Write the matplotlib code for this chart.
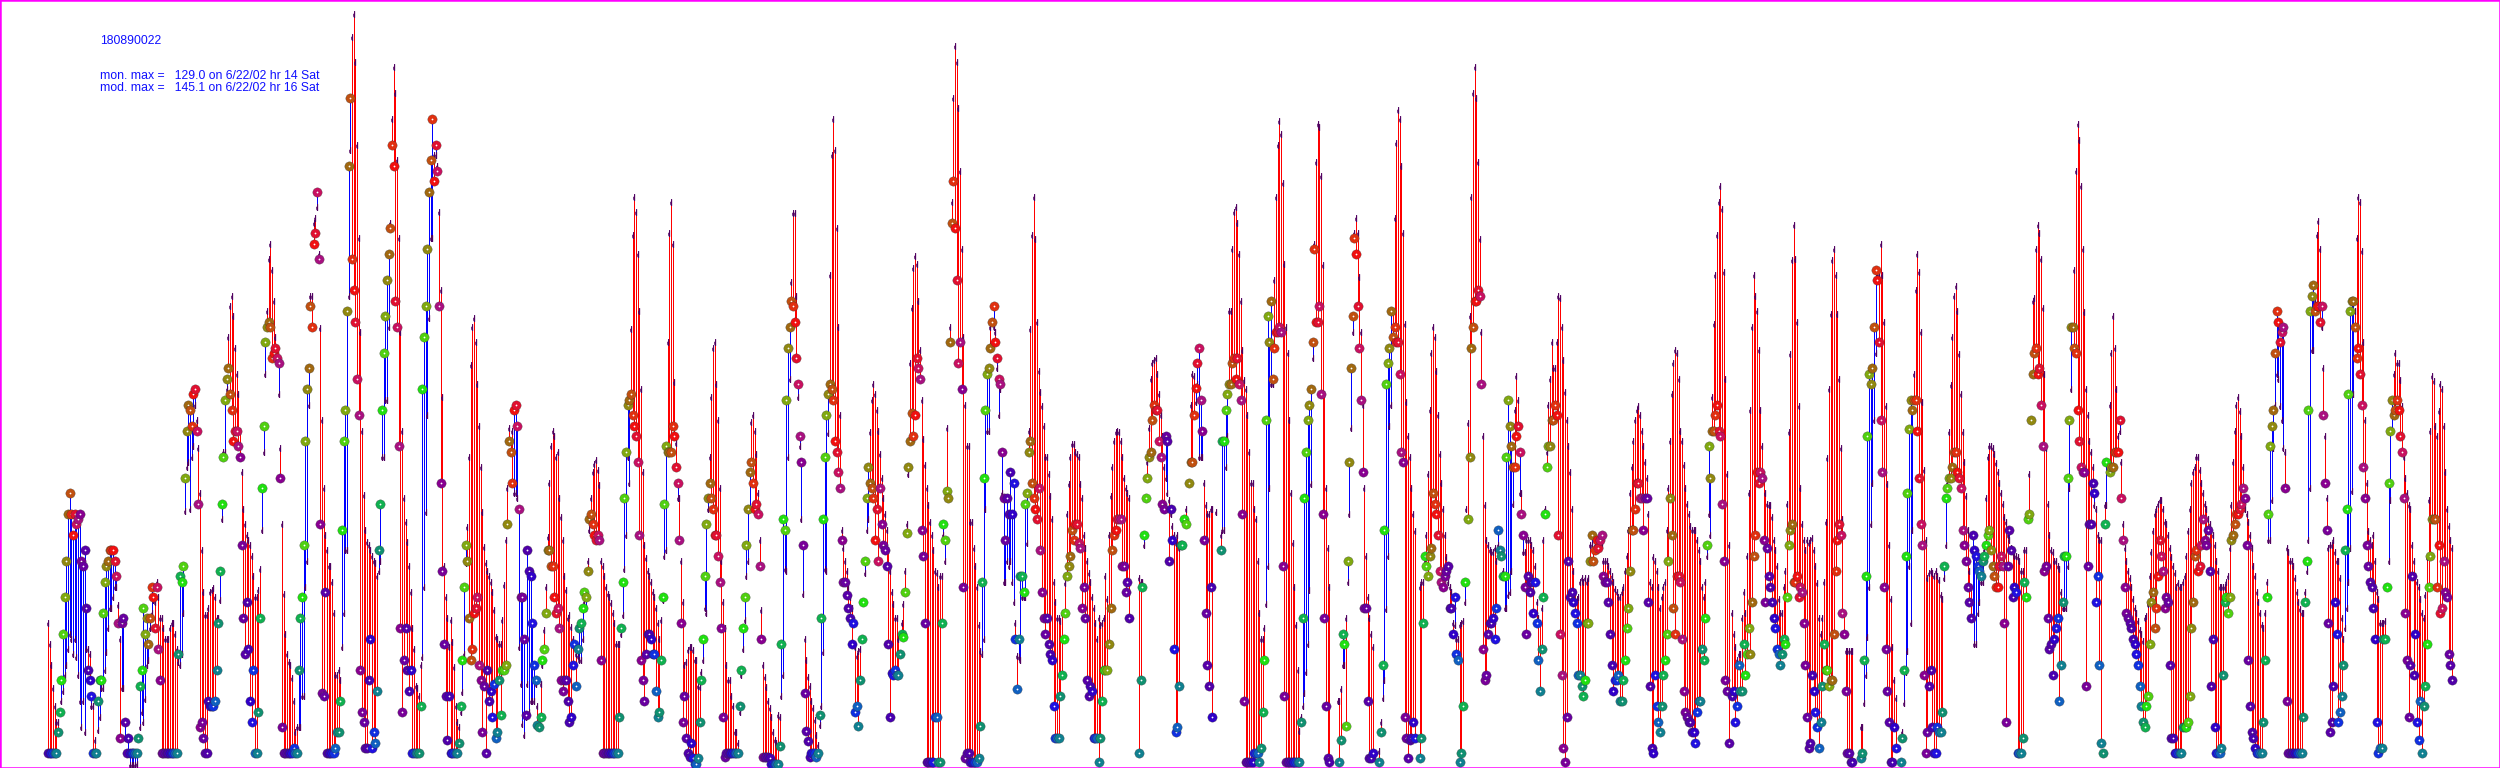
import numpy as np
import matplotlib
matplotlib.use("Agg")
import matplotlib.pyplot as plt
from matplotlib.path import Path

n = float("nan")

# modeled ozone, one row per day, hours 0-23
mod = [
[28,24,20,15.5,12,9,9,11,13,15,18,20,23,26,25,22,25,21.5,18,13,8,13,7,23],
[23,22,12,12,5.5,3,7.5,10,15.5,15.5,19,22.5,27,31,31,33,35,35,31.5,25,15.5,15.5,6,3],
[3,0.7,0.7,0.7,0.7,1,6,8,11,9,13.5,20,21,27,30,32.5,32,36,33,29,29,27,25,25],
[25,27,28,28,26,23,20.5,20,22,30,49.5,58,59,50,60,62,70,67,61.6,53,42,34,29.5,29.5],
[31,34,34.4,34.7,33,29,29,32.5,48,61,61,73,83,89,91,87,81,76,72,65,57,50,47,45],
[44,43,41,37,33,33,34.4,38.5,46,61,76,88,98,101,96,90,83,79.5,72,61.6,47,33.7,26,22],
[20.6,20,17.4,13,7,8,8,8,14,14,35,40,70,91,91,105,106,108,99,84.7,67,54,45,42],
[39,39,36,30,18,18,19,17,23.5,30,42,42,91,119,140.8,145.1,136,120,102,84,65,52.6,46,43.7],
[43,42,41,40,39.5,37,38,40,60,60,71,71,85,105,125,135,130,117,102,84,65,52,47.5,43.7],
[39,34,27,23,16,15.5,14,20,21.5,35,49.4,68,86.6,102,102,118,118,116,107,92,71.5,39,33,29],
[23.5,28.6,24.4,19.6,12,9,8,11,14.8,22,39.5,46.5,60,77.6,85,86.6,82,74,66,58,49.4,42.7,39.5,38],
[37,36,34,30.5,25.4,25,24,24,28.6,35.3,44,54,65.5,63,65,53,53,52,23.5,16.4,8.7,6.5,10,16.4],
[11,13,13,13,16.4,12,8,16.4,20,26.7,35,44.6,55,62,65,64,60,61,52,48.5,44,37,34.4,29],
[29.6,27.3,25,24,22,21.6,21,21,25,32,31,40,46,52,57,58.7,59.4,57.5,54.6,40,39,37,35,33.7],
[33,31.8,30,28,24,24,24,26,29.6,38.5,45,60,55,84.6,102.6,110,107,99,88,73,57,43,40.5,38],
[37,36,34,33,31,28,25,28.6,32.4,41,42,82,103,109,101,74.4,62.6,52,52,40,32,20,20.5,22.8],
[23.4,23.4,22.8,20.9,20.9,16,15.8,18.7,21,31,30,50,60,71.5,81,82,74,67,54,40,32,27,20,17],
[17,14,12,7,7,5,11,18,23,28.6,37,40,50,66.7,68,65,60.6,53,44,30.5,20,17.7,15.8,13],
[11.6,10,7,5.5,5,10.3,10,14,18,38.5,38,60,75,93.7,106.8,106.8,91,71.5,62,48,33.7,25,21,17.7],
[16,13,11.6,9.4,6.5,4.6,8.4,12,22.5,38.5,38,64.5,95,118,125,119,104,85,68,46,42.5,40,38,35],
[33,31,28,23.5,21.7,22.7,23,25,32,37.6,46,48,64.7,71,74,72,69,65,60.6,56,52,49,46,42],
[38,34,31.7,29,29,25,22,28,31.7,38,47,56.6,78,88.7,96.4,98.7,97,90,80.6,71,63.4,58.4,54,50.7],
[47.5,45,42,38,37.6,35,37,37,45,40,65.6,52.5,85,109,129,139,136,127,115,100,83,70,62,62],
[47.5,47.5,42.5,39,35,27.6,22.7,22,25,50,65,65,85,86,85,84,77,68,73,53,36,36,40,39],
[40,36,32,28,21.7,21.5,20.9,33,33,33,43.4,65,84.6,102.7,110,101.8,86,76.5,72.4,69.7,66,60,60,56.6],
[52.5,48,36,32,29,29,28.5,30,25,35.8,49,54.7,60,62.5,62.5,61,60.6,60,54.7,52,45,42.5,40,37.6],
[36,33,31,28,25,29,27.6,28,29,37,32.6,45,52.5,58,63,64.7,65,64.7,63,60,56,54,53,52],
[n,n,n,n,n,36.7,36,36,43,52,59,65.6,75,78,78.7,79,76,72,68,64,58,56,53,51.6],
[49,46.6,45,43.4,45,42.5,43,43,n,50,n,n,70,76,75.6,70.6,74,60,60,60,55,50.7,49,49],
[50,50,n,49.3,n,n,45,46,46,58,64,88,88,100,107,108,105,99,90,80.6,74.7,73,68,61],
[55,55,50,48,40,30,25,25,27,31.7,39,54,74,74,94,110,120,124.5,122,112.7,97,85,80,67],
[53,43.5,35,27.6,19,7.3,10,12,14.5,18.6,24,34.4,54.8,79,101,116.7,124,123.5,114,96.8,72,54,42.5,35],
[n,n,n,n,13,13,15.4,20,20,29,36,49,65.6,84,103,106,103,94.6,84,70,54,41,33,29],
[26,23.5,n,n,n,3.5,9,13.6,17,30.8,41,66,70,88,106,120.4,126.7,125,116,103,85.5,70.6,64,60],
[54,49,45.7,n,n,35,36,36,40,45,56.6,69,80,85,83,76.5,68,60.6,55,50,45,40.7,36,35],
[34,28,27.6,25,25,27.6,28,28.5,32,50,66.5,87,110,130,135,129,116.7,101.8,84,64,50.7,44,43,42],
[41.6,41.6,42.5,40,43,n,42,38,31,31,33.5,34,38,51,69,75.6,71,53,53,41.6,41.6,44,44,44],
[43,42,39,32,29,28,31,44,50,61,70,75,82,77,77,82,91,90.5,85,78.7,72.4,67,62,57],
[50,38,34,32.6,33,36,36.6,36,36.6,36,36.6,43,43,42,43,43,43,43,43,40,40,40,39,38],
[37,36,34.5,34,33,33,34,35,38,41,46,53,58,63,67,69,69.7,68,65,62,59,56,49,36],
[35,40.7,40,38,35,31,33,35,36,46,54,63,72,78,80.6,80,75,65,63,58.4,54,51,49,46.6],
[46,46,46,44,42,40,35,33,36,41,49,45,71.5,85.5,95,102.7,109,112,107.7,95.5,75,56.6,43,n],
[30,26,23.5,21,22,22,29,34,30,41,53,69,85,95,91,88,80.6,69,62,56.6,53,51,50.7,50.7],
[48.4,44,42,39,32.6,30,30,35,38,51,64.7,79.7,97.8,104.5,98,86,69.7,54,47,44,42,44,43.4,44],
[44.4,42,39,35.8,29,26,29,36,47.5,59.8,73,87.4,97.8,100,95,87.4,75,61.6,48,30,22.7,22.7,22.7,22.7],
[22.7,n,n,n,n,8,8,12.7,18,25.4,35,47,55,67,80,95,95,101,95,86,69.7,54.8,43,32.6],
[23.5,17,13.6,n,n,1.4,7,12.7,18.6,22.7,39,28,46,76,92,99,95.5,84,70.6,57.5,44,36.6,37.6,38],
[37.6,37,38,37,36.4,33.5,32.6,36.6,43,55,64.7,73.8,83,91,92.8,88,79.7,72,64.7,59,52.5,46,38,35],
[29,24,24,30,32,36,36,42,52,60,62,62,61.6,60.6,58.8,57,55,53,51,48.5,47.5,45,44,42.5],
[41.6,41,41,40.7,40,38,38,42,42,48,56.6,n,90,90.5,100,104.5,103,98,88.7,76,61.6,51,45,42],
[41.6,40,40,39,38.5,34,31,31,31,39,54,73,85,96,115,124,121,112,100,87.8,73,68,63,61],
[58,50.7,50,45,44,44,n,50.7,50.7,n,70,80,87,81,73,64,65,59,47,42.5,40,38,36.6,35],
[32.6,31,30,28.5,26.7,26,24.5,29,29.4,31.7,37,41.6,45.7,49,50,51,51.6,51.6,50,47.5,47,45,42.5,40.7],
[39,37.6,35,35.8,35,35,36,37,41,45.7,50,55,57,58,60,60,57.5,55,53,51,50,48,47,46],
[45,43,40,38,35,35,35,35,36,37,42.5,50.7,59,65,70,71.5,68.8,64,58,50,49,47.5,45,42.5],
[39,37,34,32,30,27.6,27,30,36,44,44,51.6,61.6,70,76,75,69.7,67,61.6,61,42.5,41.6,40,40],
[39,36.6,34,32,30.8,30,30,34,38,44,54,80.6,80.6,90,102.7,105.4,100,85,77,64,52,42.5,43,43],
[44,41.6,40,40,36.6,29,25,27,31,36,42.5,53.4,72,88,102,110,109,99.6,82,67,55,45.7,44,43],
[45,40,34,32.6,28,28,28,28.5,35,40,51.6,65,76,80,78,78,74.7,69.7,60,56,53,50.7,50,43],
[40,37,36,35,32.6,30,29,33.5,40.7,51.6,65,75.5,74.6,66,64,68.8,74,73,66,57,50,46.6,44,42.5],
]

# monitored ozone, same layout as mod
obs = [
[3,3,3,3,3,3,7,11,17,26,33,40,49,53,49,45,49,47,48,49,40,39,42,31],
[19,17,14,3,3,3,13,17,17,30,36,39,40,42,42,42,40,37,28,6,28,29,9,3],
[6,3,3,3,3,3,6,16,19,31,26,29,24,29,35,33,27,35,23,17,3,3,3,3],
[3,3,3,3,3,3,22,37,36,39,56,65,70,69,66,72,73,65,51,8,9,6,3,3],
[13,12,12,12,13,19,28,38,51,60,71,75,77,72,69,63,65,65,62,60,43,29,22,32],
[23,13,9,19,3,3,11,29,54,66,82,85,86,85,79,80,81,79,78,56,8,3,3,3],
[3,3,3,4,3,3,19,29,33,43,63,73,77,89,85,101,103,111,98,47,14.5,14,34,3],
[3,3,3,3,4,7,7,13,46,63,69,88,116,129,98,92,86,75,68,19,11,9,4,4],
[17,25,4,7,5,15,42,51,69,80,87,94,99,104,120,116,90,85,62,27,11,21,27,19],
[15,19,3,3,3,3,3,12,73,83,89,100,111,117,125,113,120,115,89,55,38,24,14,5.5],
[14,3,3,3,3,3,5,12,21,35,43,40,29,21,23,30,31,33,20,17,7,16,3,19],
[13,15,10,16.4,6,7,17,10.3,19,19,20,47,63,61,55,69,70,66,50,33,33,25,10.3,42],
[38,37,28,20,17,8.4,8,10,21,23,30,42,42,39,39,33,30,31,27,17,15,17,17,13],
[9,10,20,24,16,23,27,28,31,34,33,38,48,49,47,45,44,45,44,21,3,3,3,3],
[3,3,3,3,3,3,10,27,36,52,61,70,71,72,68,66,64,59,45,21,17,13,22,26],
[26,25,22,22,15,10,11,21,33,51,62,61,61,61,66,64,58,55,44,28,9,14,6,3],
[2.3,5,2,1,1,2,9,17,25,37,47,52,55,52,50,45,45,41,36,27,10,2.3,3,3],
[3,3,3,3,3,3,12,19,27,33,43,50,57,59,55,50,51,49,39,25,2.3,2.3,2.3,2.3],
[2,1,1,1,1,1,4.4,24,48,46,71,81,85,90,89,86,79,74,64,59,43,14.5,7.3,5.3],
[2.3,3,3,3,2.3,3,10.3,29,48,60,68,72,74,73,71,63,61,57,54,44,36,36,33.5,31],
[29,24,28,11,12,8.3,17,25,32,40,52,58,55,54,52,44,50,40,54,47,43,42,39,24],
[10,18.5,18,19,18,18,22,26,25.4,34,45.3,58,63,68.4,64,68,79,77,75,46,41,28,1.4,1.4],
[1.4,1.4,1.4,10,10,1.4,1.4,28,47,44,53.4,52,82,105,113,104,94,78,82,73,35,2,3,3],
[1.4,1.4,1.4,1.4,1.4,2,8.3,36,56,69,76,77,81,86,89,82,79,75,74,61,52,44,52,49],
[57,49,55,25,15.4,25,37,37,34,51,53,61,63,55,52,50,48,54,42,34,29,26,29,24],
[22,21,12,6,6,6,14,18,25,30,37,39,41,46,44,47,47,43.4,42.5,31,35,29,17,14],
[16,15,6,6,6,1.4,6,13,19,19,19,24,31,42,45,46,48,48,48,39,39,34,36,29],
[n,n,n,n,n,3,17,35,45,52,56,60,61,67,70,69,69,63,60,51,50,64,63,40],
[50,44,23,7,8,16,43,43,48,47,n,55,59,59,68,73.3,78,81,71,65,44,30,20,16],
[35,10,n,n,n,n,42,63,63,69,72,74,74,78,79,75,79,74,71,49,13,1.4,1.4,1.4],
[1.4,1.4,3,3,3,1.4,4,11,21,67,87,82,90,75,81,84,84,85,84,39,14,1.4,1.4,1.4],
[1.4,1.4,1.4,1.4,1.4,1.4,9,29,52,61,67,70,73,82,100,86,86,89,72,49,29,12,2,1.4],
[n,n,n,n,n,1.4,5.5,26,24,8.3,40,59,77,87,102,99,89,81,71,57,31,31,13,2],
[2,3,n,n,n,1.4,7,20,46,74,78,81,88,83,85,82,82,76,61,59,10,6,2,5.5],
[6,9,6,n,n,2,6,28,41,39,37,41,42.5,53,51,49,45,38,36,35,37,38,39,31],
[31,26,33,22,21,1.4,3,12,36,n,48,60,81,85,90,90,92,91,74,23,17,18,26,28],
[28,29,25,31,46,42,41,37,37,60,71,66,62,58,58,64,66,61,49,45,35,26,37,34],
[36,30,36,28,21,15,23,33,49,58,62,62,67,67,70,68,45,26,18,4,1.4,10,40,33],
[34,32,30,28,18,18,16,14,17,28,28,40,45,40,42,44,42.5,44,45,37,36,36,32,26],
[20,15,17,17,18,13,13,17,21,27,31,38,46,46,50,55,55,52,52,46,52,52,32,16],
[4,3,18,12,9,7,12,18,21,26,40,52,45,31,26,37,37,36,25,15,11,10,9,9],
[7,7,5,11,13,13,23,21,29,43,62,56,65,65,68,70,65,64,51,40,17,15,5,n],
[14,15,9,12,20,15,15,24,18,22,27,22,32,41,45,57,55,57,56,44,32,42.5,37,35],
[32,29,27,23,22,20,22,25,24,33,43,46,47,36,36,37,33,35,34,28,20,10,4,5],
[18,15,11,8,4,9,16,24,19,19,16,17,17,26,38,44,47,45,30,26,15,3,3,1.4],
[1.4,n,n,n,n,2,3,21,37,64,76,74,77,85,96,94,82,67,57,35,23,15,9,1.4],
[1.4,8,4,n,n,1.4,6,19,41,53,65.3,71,69,71,71,65,56,47,43,18,3,7,16,19],
[8,3,3,8,7,7,11,39,52,54,56,56,58,61,61,57,56,54,46,43,40,35,32,29],
[45,42,41,39,38,37,40,41,43,45,46,42,39,37,35,35,39,41,39,28,9,39,46,42],
[33,35,34,3,3,3,6,36,33,48,49,67,76,80,81,76,77,70,62,38,39,29,23,24],
[18,25,27,29,13,20,32,41,41,56,67,85,85,81,80,69,63,58,57,57,16,39,47,47],
[55,53,32,37,20,5,3,47,59,n,57,58,58,61,61,61,67,52,44,35,30,29,28,27],
[25,24,22,20,16,12,9,8,12,14,24,32,34,27,31,37,44,41,38,31,33,32,20,6],
[6,3,3,3,3,3,8,8,8,9,14,27,32,41,42,38,39,43,48,44,43,46,38,16],
[25,8,3,3,3,4,18,32,33,30,33,44,45,47,49,49,50,51,54,52,43,21,12,7],
[6,4,3,3,3,3,9,21,33,49,62,66,69,80,88,86,82,84,85,54,13,3,3,3],
[3,3,3,3,3,3,10,32,40,69,88,91,93,88,89,89,86,89,68,55,46,28,7,9],
[16,32,26,9,11,14,20,42,50,72,88,90,90,85,79,81,76,70,58,52,43,39,36,35],
[31,25,9,3,4,4,25,25,35,55,65,71,68,69,71,69,64,61,52,30,21,10,20,37],
[18,26,9,5.5,13,3,12,16,24,35,41,48,48,48,35,43,30,31,40,34,33,22,20,17],
]

# one colour per hour of the day, midnight first
hour_colors = [
    "#4800b0", "#3000c8", "#2010e0", "#1030e0", "#1060c0", "#108090",
    "#109070", "#10b050", "#20e010", "#50d010", "#80a810", "#908810",
    "#a06810", "#c05010", "#e03010", "#f01010", "#e01030", "#c81060",
    "#a81080", "#880090", "#780098", "#6800a0", "#5800a8", "#5000a8",
]
title_lines = ["180890022", "mon. max =   129.0 on 6/22/02 hr 14 Sat", "mod. max =   145.1 on 6/22/02 hr 16 Sat"]

mod_flat = np.array([v for row in mod for v in row], dtype=float)
obs_flat = np.array([v for row in obs for v in row], dtype=float)
day_len = 24
hours = np.arange(len(obs_flat))
hod = hours % day_len

dx = 1.6706
x_start = 48
y_scale = 5.2
y_zero = 768.8

fig = plt.figure(figsize=(25, 7.68), dpi=100)
ax = fig.add_axes([0, 0, 1, 1])
ax.set_xlim(-x_start / dx, (2500 - x_start) / dx)
ax.set_ylim((y_zero - 768) / y_scale, y_zero / y_scale)
ax.set_xticks([])
ax.set_yticks([])
for s in ax.spines.values():
    s.set_color("#ff00ff")
    s.set_linewidth(1.8)

over = mod_flat > obs_flat
ax.vlines(hours[over], obs_flat[over], mod_flat[over], colors="#ff0000", lw=0.55, antialiased=False, zorder=2)
ax.vlines(hours[~over], obs_flat[~over], mod_flat[~over], colors="#0000ff", lw=0.55, antialiased=False, zorder=2)

# modeled value: short dark tick with a nub on the left
tick_mark = Path([(-0.2, -3), (-0.2, 3), (0.35, 3), (0.35, -3), (-0.2, -3), (-0.9, -1.5), (-0.9, 0.5), (-0.2, 0.5)])
ax.plot(hours, mod_flat, ls="none", marker=tick_mark, ms=4.6, mfc="#500060", mec="#500060", mew=0.4, zorder=3)

# monitored value: coloured ring with a white dot, drawn in time order so later rings cover earlier dots
for i in hours:
    ax.plot(i, obs_flat[i], ls="none", marker="o", ms=6.7, mfc=hour_colors[hod[i]], mec="#303030", mew=0.2, zorder=4)
    ax.plot(i, obs_flat[i], ls="none", marker="o", ms=1.3, mfc="white", mew=0, zorder=4)

text_pos = [(100, 41), (100, 76), (100, 88)]
for line, (px, py) in zip(title_lines, text_pos):
    fig.text(px / 2500, 1 - py / 768, line, color="#1010ff", fontsize=8.8, family="Liberation Sans", va="center", ha="left")

fig.savefig("out.png", dpi=100, facecolor="white")
